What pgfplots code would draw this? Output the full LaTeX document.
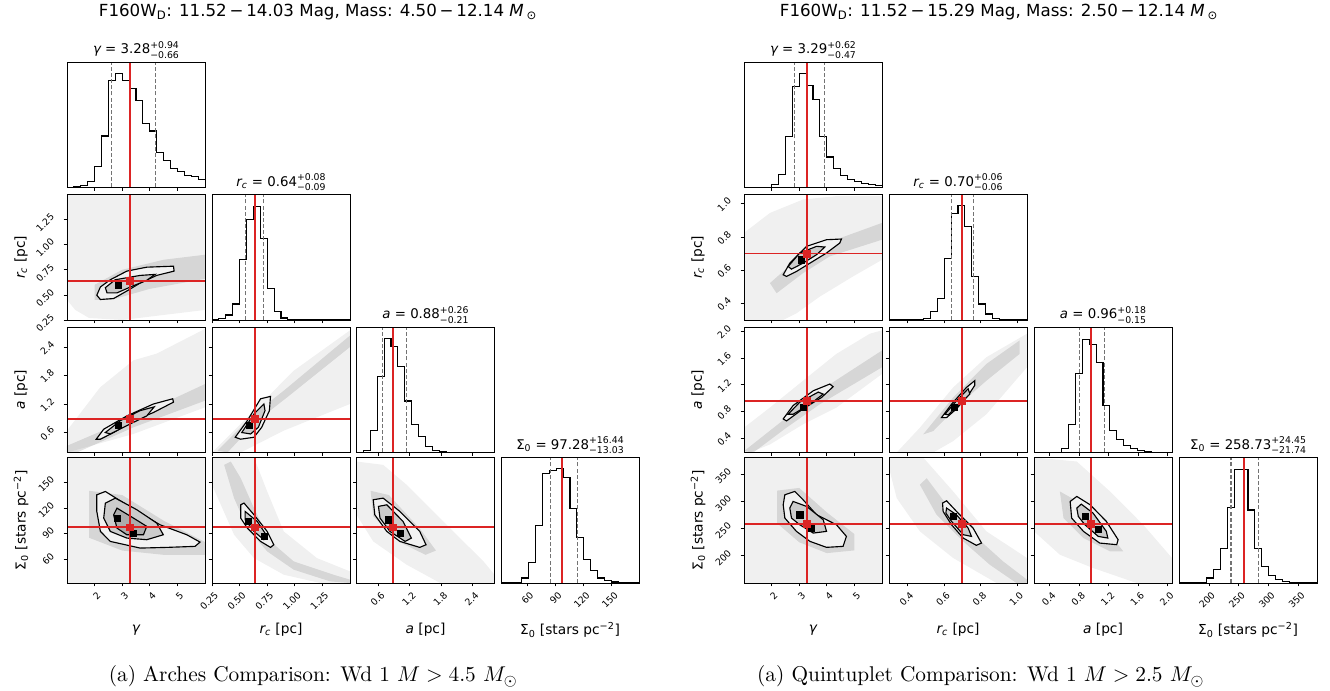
\documentclass[border=0pt]{standalone}
\usepackage[no-math]{fontspec}
\usepackage{pgfplots}
\pgfplotsset{compat=1.18}
\setmainfont{DejaVu Sans}
\newfontfamily\lmfont{Latin Modern Roman}
\definecolor{truthred}{RGB}{220,36,36}
\newcommand\tickfont{\fontsize{7}{8}\selectfont}
\newcommand\labfont{\fontsize{10.3}{12}\selectfont}
\newcommand\ttlfont{\fontsize{10}{12}\selectfont}
\newcommand\ud[2]{\makebox[0pt][l]{\raisebox{0.8ex}{\fontsize{7}{8}\selectfont#1}}\raisebox{-0.6ex}{\fontsize{7}{8}\selectfont#2}}
\newcommand\VL[4]{\addplot[#1] coordinates {(#2,#3)(#2,#4)};}
\newcommand\HL[4]{\addplot[#1] coordinates {(#3,#2)(#4,#2)};}
\pgfplotsset{
  cp/.style={scale only axis, width=103.5pt, height=94.125pt, anchor=north west,
    axis on top, tick align=outside, tick pos=left, major tick length=2.6pt,
    every tick/.style={draw=black, line width=0.5pt}, axis line style={line width=0.55pt},
    tick label style={font=\tickfont}, /pgf/number format/assume math mode=true,
    xticklabels={,,,,,,}, yticklabels={,,,,,,},
    xticklabel style={rotate=45, anchor=north east, xshift=2pt},
    yticklabel style={rotate=45, anchor=south east, yshift=2pt},
    every axis x label/.style={at={(axis description cs:0.5,-0.375)},anchor=center,font=\labfont},
    every axis y label/.style={at={(axis description cs:-0.333,0.5)},rotate=90,anchor=center,font=\labfont},
    every axis title/.style={at={(axis description cs:0.5,1)},anchor=base,yshift=6pt,font=\ttlfont},
  },
  hist/.style={cp, ymin=0, ymax=378, ytick=\empty},
  histline/.style={draw=black, line width=0.85pt, const plot mark left},
  q/.style={draw=black!55, dash pattern=on 3pt off 1.6pt, line width=0.8pt},
  truth/.style={draw=truthred, line width=1.2pt},
  cloud/.style={draw=none, fill=black, fill opacity=0.06},
  dense/.style={draw=none, fill=black, fill opacity=0.11},
  c1/.style={draw=black, line width=0.85pt, fill=gray!10},
  c2/.style={draw=black, line width=0.85pt, fill=gray!40},
  c3/.style={draw=black, line width=0.85pt, fill=gray!65},
  pk/.style={only marks, mark=square*, mark size=2.3pt, mark options={draw=black, fill=black}},
  tm/.style={only marks, mark=square*, mark size=2.6pt, mark options={draw=truthred, fill=truthred}},
  Lc1/.style={xmin=1,xmax=6,xtick={2,3,4,5}},
  Lc2/.style={xmin=0.25,xmax=1.5,xtick={0.25,0.5,0.75,1.0,1.25}},
  Lc3/.style={xmin=0.18,xmax=2.82,xtick={0.6,1.2,1.8,2.4}},
  Lc4/.style={xmin=32,xmax=179,xtick={60,90,120,150}},
  Lr2/.style={ymin=0.25,ymax=1.5,ytick={0.25,0.5,0.75,1.0,1.25}},
  Lr3/.style={ymin=0.18,ymax=2.82,ytick={0.6,1.2,1.8,2.4}},
  Lr4/.style={ymin=32,ymax=179,ytick={60,90,120,150}},
  Rc1/.style={xmin=1,xmax=6,xtick={2,3,4,5}},
  Rc2/.style={xmin=0.30,xmax=1.055,xtick={0.4,0.6,0.8,1.0}},
  Rc3/.style={xmin=0.19,xmax=2.06,xtick={0.4,0.8,1.2,1.6,2.0}},
  Rc4/.style={xmin=150,xmax=381,xtick={200,250,300,350}},
  Rr2/.style={ymin=0.30,ymax=1.055,ytick={0.4,0.6,0.8,1.0}},
  Rr3/.style={ymin=0.19,ymax=2.06,ytick={0.4,0.8,1.2,1.6,2.0}},
  Rr4/.style={ymin=150,ymax=381,ytick={200,250,300,350}},
}
\begin{document}
\begin{tikzpicture}
\path[use as bounding box] (0,0) rectangle (997.5pt,518.25pt);
% titles
\node[anchor=base,font=\fontsize{12.5}{14}\selectfont] at (238.5pt,505.5pt) {F160W\textsubscript{D}: 11.52\,−\,14.03 Mag, Mass: 4.50\,−\,12.14 {\itshape M}\,\textsubscript{⊙}};
\node[anchor=base,font=\fontsize{12.5}{14}\selectfont] at (749.25pt,505.5pt) {F160W\textsubscript{D}: 11.52\,−\,15.29 Mag, Mass: 2.50\,−\,12.14 {\itshape M}\,\textsubscript{⊙}};
\node[anchor=base,scale=1.6] at (235.1pt,6.75pt) {\lmfont\fontsize{10}{12}\selectfont (a) Arches Comparison: Wd 1 $M > 4.5\ M_{\odot}$};
\node[anchor=base,scale=1.6] at (735.75pt,6.75pt) {\lmfont\fontsize{10}{12}\selectfont (a) Quintuplet Comparison: Wd 1 $M > 2.5\ M_{\odot}$};

%================ LEFT =================
% row 1
\begin{axis}[hist, Lc1, at={(50.25pt,471.75pt)}, title={{\itshape γ} = 3.28\ud{+0.94}{−0.66}}]
\addplot[histline] coordinates {(1,0)(1.25,2)(1.5,7)(1.75,17)(2,64)(2.25,155)(2.5,322)(2.75,344)(3,322)(3.25,297)(3.5,262)(3.75,194)(4,170)(4.25,105)(4.5,80)(4.75,57)(5,47)(5.25,35)(5.5,32)(5.75,24)(6,24)};
\VL{q}{2.62}{0}{378}\VL{q}{4.22}{0}{378}\VL{truth}{3.28}{0}{378}
\end{axis}
% row 2
\begin{axis}[cp, Lc1, Lr2, at={(50.25pt,372.375pt)}, yticklabels={0.25,0.50,0.75,1.00,1.25}, ylabel={{\itshape r}\textsubscript{\itshape c} [pc]}]
\addplot[cloud] coordinates {(1,0.45)(1,1.5)(6,1.5)(6,0.35)(4.5,0.3)(3,0.25)(1.8,0.27)(1.3,0.35)} --cycle;
\addplot[dense] coordinates {(2,0.45)(2.6,0.45)(4,0.56)(6,0.66)(6,0.9)(4.5,0.85)(3,0.75)(2,0.6)} --cycle;
\addplot[c1] coordinates {(2.08,0.497)(2.21,0.579)(2.57,0.651)(3.17,0.737)(3.89,0.776)(4.86,0.786)(4.88,0.737)(4.25,0.694)(3.65,0.618)(3.17,0.539)(2.69,0.464)(2.21,0.454)} --cycle;
\addplot[c2] coordinates {(2.39,0.572)(2.75,0.651)(3.65,0.694)(4.19,0.704)(3.89,0.645)(3.35,0.585)(2.81,0.520)(2.45,0.520)} --cycle;
\addplot[pk] coordinates {(2.87,0.595)};
\VL{truth}{3.28}{0.25}{1.5}\HL{truth}{0.64}{1}{6}
\addplot[tm] coordinates {(3.28,0.64)};
\end{axis}
\begin{axis}[hist, Lc2, at={(159pt,372.375pt)}, title={{\itshape r}\textsubscript{\itshape c} = 0.64\ud{+0.08}{−0.09}}]
\addplot[histline] coordinates {(0.25,0)(0.3125,5)(0.375,15)(0.4375,48)(0.5,182)(0.5625,302)(0.625,343)(0.6875,245)(0.75,95)(0.8125,25)(0.875,6)(0.9375,2)(1.0,1)(1.0625,0)(1.5,0)};
\VL{q}{0.55}{0}{378}\VL{q}{0.72}{0}{378}\VL{truth}{0.64}{0}{378}
\end{axis}
% row 3
\begin{axis}[cp, Lc1, Lr3, at={(50.25pt,273pt)}, yticklabels={0.6,1.2,1.8,2.4}, ylabel={{\itshape a} [pc]}]
\addplot[cloud] coordinates {(1,0.64)(2.2,1.55)(3.41,2.12)(4.25,2.26)(6,2.78)(6,1.13)(3.41,0.57)(1,0.18)} --cycle;
\addplot[dense] coordinates {(1,0.32)(3.41,0.92)(6,1.62)(6,1.27)(3.41,0.71)(1.36,0.18)(1,0.18)} --cycle;
\addplot[c1] coordinates {(2.06,0.46)(2.33,0.67)(3.17,0.95)(4.13,1.20)(4.83,1.31)(4.86,1.24)(4.13,1.02)(3.41,0.85)(2.69,0.60)(2.21,0.46)} --cycle;
\addplot[c2] coordinates {(2.39,0.60)(2.93,0.85)(3.65,1.06)(4.16,1.14)(3.89,0.95)(3.29,0.78)(2.57,0.57)} --cycle;
\addplot[pk] coordinates {(2.87,0.76)};
\VL{truth}{3.28}{0.18}{2.82}\HL{truth}{0.88}{1}{6}
\addplot[tm] coordinates {(3.28,0.88)};
\end{axis}
\begin{axis}[cp, Lc2, Lr3, at={(159pt,273pt)}]
\addplot[cloud] coordinates {(0.25,0.18)(0.63,1.06)(0.99,1.90)(1.5,2.75)(1.5,1.20)(0.90,0.64)(0.51,0.18)} --cycle;
\addplot[dense] coordinates {(0.30,0.22)(0.63,0.99)(0.90,1.48)(1.5,2.64)(1.5,2.40)(0.93,1.34)(0.66,0.85)(0.39,0.18)} --cycle;
\addplot[c1] coordinates {(0.46,0.50)(0.57,0.85)(0.69,1.31)(0.78,1.36)(0.77,1.06)(0.70,0.71)(0.63,0.50)(0.51,0.46)} --cycle;
\addplot[c2] coordinates {(0.52,0.60)(0.63,0.99)(0.72,1.20)(0.73,1.06)(0.67,0.71)(0.60,0.57)} --cycle;
\addplot[pk] coordinates {(0.59,0.76)};
\VL{truth}{0.64}{0.18}{2.82}\HL{truth}{0.88}{0.25}{1.5}
\addplot[tm] coordinates {(0.64,0.88)};
\end{axis}
\begin{axis}[hist, Lc3, at={(267.375pt,273pt)}, title={{\itshape a} = 0.88\ud{+0.26}{−0.21}}]
\addplot[histline] coordinates {(0.18,0)(0.312,7)(0.444,67)(0.576,229)(0.708,344)(0.84,319)(0.972,259)(1.104,155)(1.236,85)(1.368,47)(1.5,17)(1.632,5)(1.764,2)(1.896,1)(2.028,0)(2.82,0)};
\VL{q}{0.67}{0}{378}\VL{q}{1.14}{0}{378}\VL{truth}{0.88}{0}{378}
\end{axis}
% row 4
\begin{axis}[cp, Lc1, Lr4, at={(50.25pt,175.125pt)}, yticklabels={60,90,120,150}, xticklabels={2,3,4,5}, ylabel={Σ\textsubscript{0} [stars pc\textsuperscript{−2}]}, xlabel={\itshape γ}]
\addplot[cloud] coordinates {(1,32)(1,179)(6,179)(6,32)} --cycle;
\addplot[dense] coordinates {(1.8,140)(3,135)(4.5,105)(6,80)(6,65)(4.5,65)(3,70)(1.8,85)} --cycle;
\addplot[c1] coordinates {(2.08,135.3)(2.39,139.2)(2.93,128.3)(3.65,113.9)(4.37,100.2)(5.34,88.5)(5.82,79.9)(5.64,74.9)(4.62,73.7)(3.65,72.9)(2.57,80.7)(2.21,92.4)(2.08,115.8)} --cycle;
\addplot[c2] coordinates {(2.39,125.6)(2.75,131.4)(3.53,117.8)(4.25,102.2)(4.49,88.5)(3.89,82.7)(3.17,84.6)(2.57,92.4)(2.33,108.0)} --cycle;
\addplot[c3] coordinates {(2.69,111.9)(2.81,119.7)(3.41,108.0)(3.89,98.3)(3.77,88.5)(3.17,88.5)(2.81,96.3)} --cycle;
\addplot[pk] coordinates {(2.81,108)(3.4,90)};
\VL{truth}{3.28}{32}{179}\HL{truth}{97.28}{1}{6}
\addplot[tm] coordinates {(3.28,97.28)};
\end{axis}
\begin{axis}[cp, Lc2, Lr4, at={(159pt,175.125pt)}, xticklabels={0.25,0.50,0.75,1.00,1.25}, xlabel={{\itshape r}\textsubscript{\itshape c} [pc]}]
\addplot[cloud] coordinates {(0.25,179)(0.63,179)(0.75,139.2)(0.90,92.4)(1.20,61.2)(1.5,45.6)(1.5,32)(1.23,32)(0.90,41.7)(0.63,61.2)(0.45,88.5)(0.33,123.6)(0.25,147)} --cycle;
\addplot[dense] coordinates {(0.42,174.3)(0.51,154.8)(0.63,119.7)(0.78,80.7)(0.99,57.3)(1.35,41.7)(1.5,35.9)(1.5,32)(1.32,33.9)(0.99,47.6)(0.75,69.0)(0.57,96.3)(0.45,131.4)(0.36,170.4)} --cycle;
\addplot[c1] coordinates {(0.51,123.6)(0.54,125.6)(0.63,111.9)(0.75,92.4)(0.81,76.8)(0.78,73.7)(0.69,80.7)(0.57,96.3)(0.51,108.0)} --cycle;
\addplot[c2] coordinates {(0.55,115.8)(0.66,104.1)(0.75,86.6)(0.72,82.7)(0.63,92.4)(0.55,106.1)} --cycle;
\addplot[pk] coordinates {(0.58,104)(0.72,86.6)};
\VL{truth}{0.64}{32}{179}\HL{truth}{97.28}{0.25}{1.5}
\addplot[tm] coordinates {(0.64,97.28)};
\end{axis}
\begin{axis}[cp, Lc3, Lr4, at={(267.375pt,175.125pt)}, xticklabels={0.6,1.2,1.8,2.4}, xlabel={{\itshape a} [pc]}]
\addplot[cloud] coordinates {(0.18,174.3)(0.69,170.4)(1.14,147.0)(1.65,115.8)(2.16,84.6)(2.61,57.3)(2.82,41.7)(2.82,32)(1.78,32)(1.14,53.4)(0.50,80.7)(0.18,111.9)} --cycle;
\addplot[dense] coordinates {(0.45,140)(0.8,135)(1.4,95)(1.7,70)(1.5,65)(1.0,80)(0.5,110)} --cycle;
\addplot[c1] coordinates {(0.50,129.5)(0.69,131.4)(1.01,115.8)(1.39,92.4)(1.51,76.8)(1.39,73.7)(1.01,80.7)(0.76,92.4)(0.53,111.9)} --cycle;
\addplot[c2] coordinates {(0.60,121.7)(0.76,123.6)(1.07,104.1)(1.23,84.6)(1.11,80.7)(0.82,92.4)(0.63,108.0)} --cycle;
\addplot[pk] coordinates {(0.79,106)(1.01,90.5)};
\VL{truth}{0.88}{32}{179}\HL{truth}{97.28}{0.18}{2.82}
\addplot[tm] coordinates {(0.88,97.28)};
\end{axis}
\begin{axis}[hist, Lc4, at={(375.75pt,175.125pt)}, xticklabels={60,90,120,150}, xlabel={Σ\textsubscript{0} [stars pc\textsuperscript{−2}]}, title={Σ\textsubscript{0} = 97.28\ud{+16.44}{−13.03}}]
\addplot[histline] coordinates {(32,0)(39.35,0)(46.7,2)(54.05,15)(61.4,63)(68.75,172)(76.1,330)(83.45,340)(90.8,345)(98.15,318)(105.5,225)(112.85,137)(120.2,70)(127.55,37)(134.9,15)(142.25,7)(149.6,3)(156.95,2)(164.3,1)(171.65,0)(179,0)};
\VL{q}{84.25}{0}{378}\VL{q}{113.72}{0}{378}\VL{truth}{97.28}{0}{378}
\end{axis}

%================ RIGHT =================
\begin{axis}[hist, Rc1, at={(558pt,471.75pt)}, title={{\itshape γ} = 3.29\ud{+0.62}{−0.47}}]
\addplot[histline] coordinates {(1,0)(1.25,0)(1.5,0)(1.75,0)(2,9)(2.25,40)(2.5,154)(2.75,304)(3,344)(3.25,307)(3.5,264)(3.75,154)(4,92)(4.25,57)(4.5,35)(4.75,25)(5,17)(5.25,12)(5.5,9)(5.75,5)(6,5)};
\VL{q}{2.82}{0}{378}\VL{q}{3.91}{0}{378}\VL{truth}{3.29}{0}{378}
\end{axis}
\begin{axis}[cp, Rc1, Rr2, at={(558pt,372.375pt)}, yticklabels={0.4,0.6,0.8,1.0}, ylabel={{\itshape r}\textsubscript{\itshape c} [pc]}]
\addplot[cloud] coordinates {(1,0.824)(1.94,0.944)(3.14,1.025)(4.35,1.045)(6,1.045)(6,0.662)(4.95,0.562)(3.75,0.441)(2.90,0.340)(2.42,0.30)(1,0.30)} --cycle;
\addplot[dense] coordinates {(1.94,0.522)(2.90,0.662)(3.99,0.763)(6,0.884)(6,0.783)(4.11,0.683)(3.14,0.582)(2.18,0.461)} --cycle;
\addplot[c1] coordinates {(2.42,0.572)(2.66,0.642)(3.27,0.743)(3.99,0.783)(4.53,0.787)(4.47,0.763)(3.99,0.703)(3.39,0.642)(2.90,0.592)(2.54,0.562)} --cycle;
\addplot[c2] coordinates {(2.60,0.622)(3.02,0.703)(3.63,0.743)(3.93,0.739)(3.63,0.693)(3.14,0.642)(2.72,0.606)} --cycle;
\addplot[pk] coordinates {(3.08,0.662)};
\VL{truth}{3.29}{0.30}{1.055}\HL{truth}{0.70}{1}{6}
\addplot[tm] coordinates {(3.29,0.70)};
\end{axis}
\begin{axis}[hist, Rc2, at={(666.75pt,372.375pt)}, title={{\itshape r}\textsubscript{\itshape c} = 0.70\ud{+0.06}{−0.06}}]
\addplot[histline] coordinates {(0.30,0)(0.451,2)(0.48875,5)(0.5265,25)(0.56425,65)(0.602,185)(0.63975,320)(0.6775,345)(0.71525,282)(0.753,130)(0.79075,48)(0.8285,18)(0.86625,5)(0.904,2)(0.94175,0)(1.055,0)};
\VL{q}{0.64}{0}{378}\VL{q}{0.76}{0}{378}\VL{truth}{0.70}{0}{378}
\end{axis}
\begin{axis}[cp, Rc1, Rr3, at={(558pt,273pt)}, yticklabels={0.4,0.8,1.2,1.6,2.0}, ylabel={{\itshape a} [pc]}]
\addplot[cloud] coordinates {(1,0.56)(1.94,0.86)(3.14,1.26)(4.35,1.66)(5.56,1.96)(6,2.01)(6,1.36)(4.35,0.86)(3.14,0.61)(1.94,0.31)(1.22,0.19)(1,0.19)} --cycle;
\addplot[dense] coordinates {(1,0.21)(2.54,0.71)(3.75,1.11)(6,1.71)(6,1.46)(3.75,0.91)(2.54,0.56)(1.34,0.19)} --cycle;
\addplot[c1] coordinates {(2.42,0.69)(2.78,0.89)(3.51,1.11)(4.11,1.21)(4.23,1.17)(3.81,1.01)(3.14,0.84)(2.54,0.66)} --cycle;
\addplot[c2] coordinates {(2.60,0.76)(3.02,0.94)(3.69,1.09)(3.87,1.06)(3.39,0.91)(2.78,0.76)} --cycle;
\addplot[pk] coordinates {(3.14,0.87)};
\VL{truth}{3.29}{0.19}{2.06}\HL{truth}{0.96}{1}{6}
\addplot[tm] coordinates {(3.29,0.96)};
\end{axis}
\begin{axis}[cp, Rc2, Rr3, at={(666.75pt,273pt)}]
\addplot[cloud] coordinates {(0.342,0.19)(0.469,0.56)(0.651,1.16)(0.833,1.61)(1.055,1.96)(1.055,1.46)(0.833,0.76)(0.651,0.36)(0.542,0.19)} --cycle;
\addplot[dense] coordinates {(0.487,0.46)(0.651,1.01)(0.833,1.51)(1.015,1.86)(1.015,1.66)(0.833,1.26)(0.687,0.91)(0.542,0.51)} --cycle;
\addplot[c1] coordinates {(0.587,0.71)(0.642,0.91)(0.724,1.16)(0.769,1.26)(0.769,1.19)(0.733,1.04)(0.669,0.84)(0.615,0.71)} --cycle;
\addplot[c2] coordinates {(0.606,0.76)(0.669,0.96)(0.733,1.14)(0.742,1.06)(0.678,0.89)(0.624,0.75)} --cycle;
\addplot[pk] coordinates {(0.655,0.87)};
\VL{truth}{0.70}{0.19}{2.06}\HL{truth}{0.96}{0.30}{1.055}
\addplot[tm] coordinates {(0.70,0.96)};
\end{axis}
\begin{axis}[hist, Rc3, at={(775.5pt,273pt)}, title={{\itshape a} = 0.96\ud{+0.18}{−0.15}}]
\addplot[histline] coordinates {(0.19,0)(0.564,13)(0.6575,84)(0.751,238)(0.8445,341)(0.938,326)(1.0315,271)(1.125,141)(1.2185,66)(1.312,38)(1.4055,21)(1.499,11)(1.5925,6)(1.686,3)(1.7795,1)(1.873,0)(2.06,0)};
\VL{q}{0.81}{0}{378}\VL{q}{1.14}{0}{378}\VL{truth}{0.96}{0}{378}
\end{axis}
\begin{axis}[cp, Rc1, Rr4, at={(558pt,175.125pt)}, yticklabels={200,250,300,350}, xticklabels={2,3,4,5}, ylabel={Σ\textsubscript{0} [stars pc\textsuperscript{−2}]}, xlabel={\itshape γ}]
\addplot[cloud] coordinates {(1,150)(1,381)(6,381)(6,150)} --cycle;
\addplot[dense] coordinates {(2.2,320)(3,325)(4,280)(5,240)(5,210)(4,205)(3,225)(2.2,260)} --cycle;
\addplot[c1] coordinates {(2.42,294.0)(2.48,312.4)(2.84,318.5)(3.14,303.2)(3.63,275.6)(4.35,257.2)(4.71,235.8)(4.59,217.4)(3.99,215.6)(3.39,226.6)(2.90,245.0)(2.48,269.5)} --cycle;
\addplot[c2] coordinates {(2.66,287.9)(2.78,300.1)(3.27,290.9)(3.87,266.4)(3.99,245.0)(3.51,241.9)(3.02,257.2)(2.72,269.5)} --cycle;
\addplot[pk] coordinates {(3.45,251)(3.02,275.6)};
\VL{truth}{3.29}{150}{381}\HL{truth}{258.73}{1}{6}
\addplot[tm] coordinates {(3.29,258.73)};
\end{axis}
\begin{axis}[cp, Rc2, Rr4, at={(666.75pt,175.125pt)}, xticklabels={0.4,0.6,0.8,1.0}, xlabel={{\itshape r}\textsubscript{\itshape c} [pc]}]
\addplot[cloud] coordinates {(0.305,381)(0.487,381)(0.651,318.5)(0.833,245.0)(1.055,196.0)(1.055,150)(0.888,150)(0.651,196.0)(0.469,245.0)(0.342,306.3)(0.305,355.3)} --cycle;
\addplot[dense] coordinates {(0.506,343.0)(0.615,294.0)(0.742,245.0)(0.924,189.8)(1.055,156.1)(1.055,150)(0.997,150)(0.851,183.7)(0.706,226.6)(0.560,275.6)(0.469,330.8)} --cycle;
\addplot[c1] coordinates {(0.593,297.1)(0.615,301.3)(0.678,278.7)(0.760,251.1)(0.806,223.5)(0.778,219.3)(0.706,232.7)(0.642,257.2)(0.596,281.7)} --cycle;
\addplot[c2] coordinates {(0.615,287.9)(0.669,275.6)(0.733,251.1)(0.751,235.8)(0.706,238.9)(0.642,263.4)(0.611,278.7)} --cycle;
\addplot[pk] coordinates {(0.651,272.6)};
\VL{truth}{0.70}{150}{381}\HL{truth}{258.73}{0.30}{1.055}
\addplot[tm] coordinates {(0.70,258.73)};
\end{axis}
\begin{axis}[cp, Rc3, Rr4, at={(775.5pt,175.125pt)}, xticklabels={0.4,0.8,1.2,1.6,2.0}, xlabel={{\itshape a} [pc]}]
\addplot[cloud] coordinates {(0.19,381)(0.77,373.6)(1.22,318.5)(1.67,257.2)(2.06,196.0)(2.06,150)(1.58,150)(0.99,177.6)(0.54,202.1)(0.19,245.0)} --cycle;
\addplot[dense] coordinates {(0.54,318.5)(0.86,294.0)(1.22,238.9)(1.40,208.2)(1.22,208.2)(0.86,232.7)(0.59,269.5)} --cycle;
\addplot[c1] coordinates {(0.68,300.1)(0.77,309.3)(0.95,294.0)(1.17,263.4)(1.33,229.7)(1.31,220.5)(1.08,223.5)(0.86,245.0)(0.70,269.5)} --cycle;
\addplot[c2] coordinates {(0.77,287.9)(0.83,295.2)(0.99,278.7)(1.17,245.0)(1.19,232.7)(1.06,235.8)(0.88,257.2)(0.79,272.6)} --cycle;
\addplot[pk] coordinates {(0.88,272.6)(1.06,249)};
\VL{truth}{0.96}{150}{381}\HL{truth}{258.73}{0.19}{2.06}
\addplot[tm] coordinates {(0.96,258.73)};
\end{axis}
\begin{axis}[hist, Rc4, at={(884.25pt,175.125pt)}, xticklabels={200,250,300,350}, xlabel={Σ\textsubscript{0} [stars pc\textsuperscript{−2}]}, title={Σ\textsubscript{0} = 258.73\ud{+24.45}{−21.74}}]
\addplot[histline] coordinates {(150,0)(184.65,2)(196.2,15)(207.75,40)(219.3,105)(230.85,227)(242.4,343)(253.95,343)(265.5,220)(277.05,103)(288.6,50)(300.15,23)(311.7,10)(323.25,5)(334.8,2)(346.35,1)(357.9,0)(381,0)};
\VL{q}{236.99}{0}{378}\VL{q}{283.18}{0}{378}\VL{truth}{258.73}{0}{378}
\end{axis}
\end{tikzpicture}
\end{document}
